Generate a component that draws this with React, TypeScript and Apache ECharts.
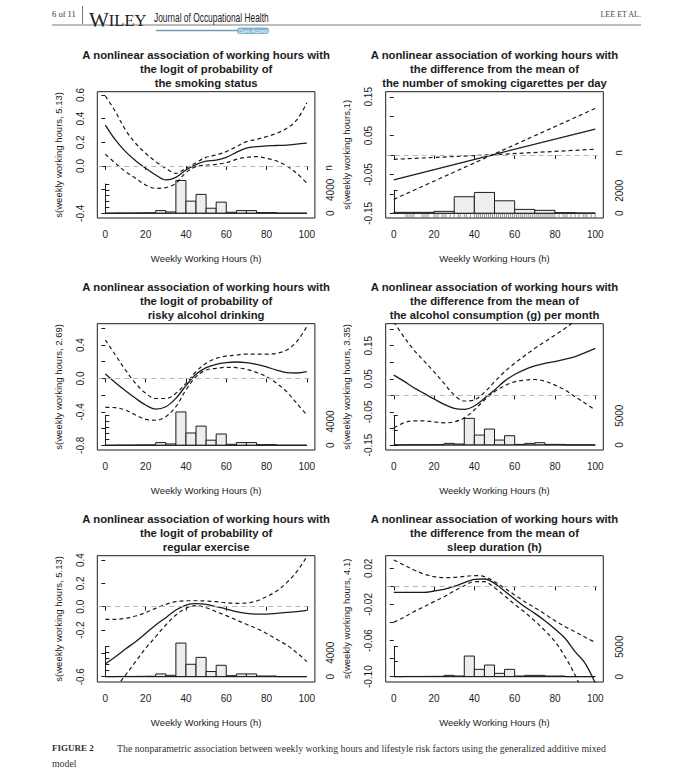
import React, { useEffect, useRef } from 'react';
import * as echarts from 'echarts';

// ---------------- data ----------------
const curveX = [0, 5, 10, 15, 20, 25, 30, 35, 40, 45, 50, 55, 60, 65, 70, 75, 80, 85, 90, 95, 100];
const linearX = [0, 50, 100];
const xTicks = [0, 20, 40, 60, 80, 100];

// Panel 1: smoking status
const smokeFit = [0.346, 0.22, 0.121, 0.045, -0.02, -0.076, -0.118, -0.096, -0.034, 0.012, 0.04, 0.05, 0.073, 0.115, 0.15, 0.163, 0.17, 0.173, 0.177, 0.185, 0.194];
const smokeUpper = [0.592, 0.459, 0.304, 0.192, 0.107, 0.037, -0.02, -0.062, -0.02, 0.028, 0.073, 0.093, 0.121, 0.163, 0.206, 0.225, 0.248, 0.276, 0.318, 0.389, 0.535];
const smokeLower = [0.099, 0.023, -0.048, -0.104, -0.161, -0.189, -0.183, -0.146, -0.056, -0.005, 0.008, 0.014, 0.028, 0.056, 0.073, 0.079, 0.065, 0.042, 0.0, -0.062, -0.146];

// Panel 2: cigarettes per day (linear)
const cigFit = [-0.064, 0.002, 0.067];
const cigCiA = [-0.011, 0.001, 0.015];
const cigCiB = [-0.114, 0.003, 0.12];

// Panel 3: risky alcohol drinking
const drinkFit = [0.053, -0.05, -0.146, -0.238, -0.318, -0.366, -0.338, -0.238, -0.086, 0.049, 0.129, 0.169, 0.189, 0.197, 0.189, 0.169, 0.137, 0.101, 0.069, 0.065, 0.081];
const drinkUpper = [0.46, 0.28, 0.1, -0.058, -0.178, -0.24, -0.24, -0.178, -0.058, 0.081, 0.181, 0.24, 0.268, 0.28, 0.292, 0.292, 0.292, 0.3, 0.34, 0.44, 0.62];
const drinkLower = [-0.346, -0.35, -0.378, -0.437, -0.489, -0.5, -0.457, -0.338, -0.138, 0.021, 0.101, 0.121, 0.133, 0.129, 0.109, 0.073, 0.021, -0.058, -0.158, -0.298, -0.437];

// Panel 4: alcohol consumption per month
const alcFit = [0.061, 0.043, 0.023, 0.006, -0.011, -0.027, -0.039, -0.042, -0.032, -0.009, 0.016, 0.043, 0.063, 0.078, 0.089, 0.097, 0.102, 0.109, 0.117, 0.129, 0.142];
const alcUpper = [0.222, 0.177, 0.137, 0.104, 0.071, 0.036, 0.001, -0.017, -0.014, 0.009, 0.041, 0.071, 0.097, 0.12, 0.142, 0.162, 0.182, 0.202, 0.225, 0.246, 0.268];
const alcLower = [-0.098, -0.083, -0.077, -0.077, -0.08, -0.083, -0.08, -0.068, -0.044, -0.014, 0.011, 0.029, 0.041, 0.046, 0.048, 0.043, 0.031, 0.016, -0.004, -0.024, -0.044];

// Panel 5: regular exercise
const exFit = [-0.491, -0.429, -0.363, -0.3, -0.229, -0.157, -0.094, -0.029, 0.014, 0.026, 0.02, 0.0, -0.02, -0.043, -0.057, -0.063, -0.063, -0.057, -0.049, -0.043, -0.031];
const exUpper = [-0.109, -0.109, -0.1, -0.08, -0.051, -0.014, 0.02, 0.043, 0.051, 0.051, 0.049, 0.043, 0.034, 0.029, 0.031, 0.049, 0.086, 0.134, 0.206, 0.3, 0.429];
const exLower = [-0.84, -0.7, -0.586, -0.471, -0.357, -0.257, -0.157, -0.071, -0.014, 0.009, -0.009, -0.043, -0.077, -0.114, -0.151, -0.186, -0.229, -0.28, -0.329, -0.394, -0.471];

// Panel 6: sleep duration
const sleepFit = [-0.0066, -0.0066, -0.0066, -0.0066, -0.0051, -0.0033, 0.0, 0.0041, 0.0078, 0.0082, 0.0034, -0.0051, -0.014, -0.0225, -0.0299, -0.038, -0.0472, -0.0575, -0.0723, -0.0852, -0.107];
const sleepUpper = [0.0292, 0.0237, 0.0182, 0.0137, 0.0108, 0.0097, 0.01, 0.0111, 0.0119, 0.0108, 0.0052, -0.0018, -0.0095, -0.0169, -0.0236, -0.0306, -0.038, -0.0446, -0.0502, -0.0564, -0.062];
const sleepLower = [-0.0398, -0.0343, -0.028, -0.0225, -0.0169, -0.0114, -0.0051, 0.0008, 0.0052, 0.0052, -0.0014, -0.0103, -0.0199, -0.0287, -0.0383, -0.049, -0.0612, -0.0779, -0.0982, -0.124, -0.15];

// Histograms of weekly working hours
const edges5 = [0, 5, 10, 15, 20, 25, 30, 35, 40, 45, 50, 55, 60, 65, 70, 75, 80, 85, 90, 95, 100];
const edges10 = [0, 10, 20, 30, 40, 50, 60, 70, 80, 90, 100];
const histMain = [10, 40, 40, 60, 80, 460, 230, 5600, 2070, 3220, 860, 1900, 170, 460, 460, 115, 115, 10, 10, 10];
const histCig = [90, 90, 175, 1470, 1850, 1110, 350, 265, 60, 30];
const histAlc = [10, 40, 40, 50, 60, 285, 170, 4550, 1700, 2730, 850, 1590, 110, 285, 400, 110, 110, 10, 10, 10];
const histSleep = [10, 40, 40, 50, 60, 220, 110, 3440, 1220, 1940, 555, 1220, 110, 220, 220, 110, 110, 10, 10, 10];
const rugCig = [6, 7, 8, 9, 10, 14, 15, 16, 17, 20, 21, 22, 24, 25, 26, 28, 30, 32, 33, 35, 36, 38,
  40, 41, 42, 43, 44, 45, 46, 47, 48, 49, 50, 51, 52, 53, 54, 55, 56, 57, 58, 59, 60, 61, 62, 63, 64, 65,
  66, 67, 68, 69, 70, 71, 72, 73, 74, 75, 76, 77, 78, 79, 80, 82, 84, 85, 86, 88, 90, 92, 94, 95, 96, 98, 100];

// Axis ticks
const ticksP1 = [-0.4, -0.2, 0, 0.2, 0.4, 0.6];
const labelsP1 = [-0.4, 0, 0.2, 0.4, 0.6];
const ticksP2 = [-0.15, -0.1, -0.05, 0, 0.05, 0.1, 0.15];
const labelsP2 = [-0.15, -0.05, 0.05, 0.15];
const ticksP3 = [-0.8, -0.6, -0.4, -0.2, 0, 0.2, 0.4, 0.6];
const labelsP3 = [-0.8, -0.4, 0, 0.4];
const ticksP4 = [-0.15, -0.1, -0.05, 0, 0.05, 0.1, 0.15, 0.2];
const labelsP4 = [-0.15, -0.05, 0.05, 0.15];
const ticksP5 = [-0.6, -0.4, -0.2, 0, 0.2, 0.4];
const labelsP5 = [-0.6, -0.2, 0, 0.2, 0.4];
const ticksP6 = [-0.1, -0.08, -0.06, -0.04, -0.02, 0, 0.02];
const labelsP6 = [-0.1, -0.06, -0.02, 0.02];
const nTicks5000 = [0, 1000, 2000, 3000, 4000, 5000];
const nLabels4000 = [0, 4000];
const nTicks2000 = [0, 2000];
const nTicksHalf = [0, 2500, 5000];
const nLabels5000 = [0, 5000];

const titleHead = 'A nonlinear association of working hours with';

// ---------------- layout / style ----------------
const INK = '#1c1c1c';
const FONT = '"Liberation Sans", Arial, Helvetica, sans-serif';
const SERIF = '"Liberation Serif", "DejaVu Serif", serif';
const colLeft = [97.3, 385.7];
const boxW = 217.6;
const rowTop = [91.7, 323.7, 555.7];
const boxH = 126.3;
const titleCY = [69, 301, 533];

type Panel = {
  col: number; row: number; title: string; yName: string;
  yMin: number; yMax: number; yTicks: number[]; yLabels: number[]; dec: number;
  xs: number[]; fit: number[]; ciA: number[]; ciB: number[]; smooth: boolean;
  edges: number[]; counts: number[]; nMax: number; nTicks: number[]; nLabels: number[];
  histBase: number; histPx: number; showN: boolean; nPos?: [number, number]; rug?: number[];
};

const panels: Panel[] = [
  { col: 0, row: 0, title: titleHead + '\nthe logit of probability of\nthe smoking status', yName: 's(weekly working hours, 5.13)',
    yMin: -0.44, yMax: 0.628, yTicks: ticksP1, yLabels: labelsP1, dec: 1, xs: curveX, fit: smokeFit, ciA: smokeUpper, ciB: smokeLower, smooth: true,
    edges: edges5, counts: histMain, nMax: 5000, nTicks: nTicks5000, nLabels: nLabels4000, histBase: -0.4, histPx: 29.3, showN: true, nPos: [328, 168] },
  { col: 1, row: 0, title: titleHead + '\nthe difference from the mean of\nthe number of smoking cigarettes per day', yName: 's(weekly working hours,1)',
    yMin: -0.162, yMax: 0.163, yTicks: ticksP2, yLabels: labelsP2, dec: 2, xs: linearX, fit: cigFit, ciA: cigCiA, ciB: cigCiB, smooth: false,
    edges: edges10, counts: histCig, nMax: 2000, nTicks: nTicks2000, nLabels: nTicks2000, histBase: -0.15, histPx: 22.6, showN: true, nPos: [618, 153], rug: rugCig },
  { col: 0, row: 1, title: titleHead + '\nthe logit of probability of\nrisky alcohol drinking', yName: 's(weekly working hours, 2.69)',
    yMin: -0.856, yMax: 0.655, yTicks: ticksP3, yLabels: labelsP3, dec: 1, xs: curveX, fit: drinkFit, ciA: drinkUpper, ciB: drinkLower, smooth: true,
    edges: edges5, counts: histMain, nMax: 5000, nTicks: nTicks5000, nLabels: nLabels4000, histBase: -0.8, histPx: 29.8, showN: false },
  { col: 1, row: 1, title: titleHead + '\nthe difference from the mean of\nthe alcohol consumption (g) per month', yName: 's(weekly working hours, 3.35)',
    yMin: -0.165, yMax: 0.2165, yTicks: ticksP4, yLabels: labelsP4, dec: 2, xs: curveX, fit: alcFit, ciA: alcUpper, ciB: alcLower, smooth: true,
    edges: edges5, counts: histAlc, nMax: 5000, nTicks: nTicksHalf, nLabels: nLabels5000, histBase: -0.15, histPx: 29.3, showN: false },
  { col: 0, row: 2, title: titleHead + '\nthe logit of probability of\nregular exercise', yName: 's(weekly working hours, 5.13)',
    yMin: -0.6455, yMax: 0.437, yTicks: ticksP5, yLabels: labelsP5, dec: 1, xs: curveX, fit: exFit, ciA: exUpper, ciB: exLower, smooth: true,
    edges: edges5, counts: histMain, nMax: 5000, nTicks: nTicks5000, nLabels: nLabels4000, histBase: -0.6, histPx: 30, showN: false },
  { col: 1, row: 2, title: titleHead + '\nthe difference from the mean of\nsleep duration (h)', yName: 's(weekly working hours, 4.1)',
    yMin: -0.1059, yMax: 0.034, yTicks: ticksP6, yLabels: labelsP6, dec: 2, xs: curveX, fit: sleepFit, ciA: sleepUpper, ciB: sleepLower, smooth: true,
    edges: edges5, counts: histSleep, nMax: 5000, nTicks: nTicksHalf, nLabels: nLabels5000, histBase: -0.1, histPx: 30, showN: false },
];

function buildOption() {
  const grid: any[] = [];
  const xAxis: any[] = [];
  const yAxis: any[] = [];
  const series: any[] = [];
  const elements: any[] = [];

  panels.forEach((p, i) => {
    const left = colLeft[p.col];
    const top = rowTop[p.row];
    const gi = i * 2;
    const basePx = top + ((p.yMax - p.histBase) / (p.yMax - p.yMin)) * boxH;

    grid.push({ left, top, width: boxW, height: boxH, show: true, borderColor: INK, borderWidth: 1, backgroundColor: 'transparent', containLabel: false });
    grid.push({ left, top: basePx - p.histPx, width: boxW, height: p.histPx, show: false, containLabel: false });

    xAxis.push({
      gridIndex: gi, type: 'value', min: -4, max: 104,
      axisLine: { show: false },
      axisTick: { show: true, length: 4, customValues: xTicks, lineStyle: { color: INK, width: 1 } },
      axisLabel: { customValues: xTicks, margin: 16, fontSize: 10, color: INK, fontFamily: FONT, verticalAlign: 'middle' },
      splitLine: { show: false },
      name: 'Weekly Working Hours (h)', nameLocation: 'middle', nameGap: 40,
      nameTextStyle: { fontSize: 9.5, color: INK, fontFamily: FONT, verticalAlign: 'middle' },
    });
    xAxis.push({ gridIndex: gi + 1, type: 'value', min: -4, max: 104, show: false });

    yAxis.push({
      gridIndex: gi, type: 'value', min: p.yMin, max: p.yMax,
      axisLine: { show: false },
      axisTick: { show: true, length: 4, customValues: p.yTicks, lineStyle: { color: INK, width: 1 } },
      axisLabel: { customValues: p.yLabels, rotate: 90, margin: 17, fontSize: 10, color: INK, fontFamily: FONT,
        align: 'center', verticalAlign: 'middle', formatter: (v: number) => Number(v).toFixed(p.dec) },
      splitLine: { show: false },
      name: p.yName, nameLocation: 'middle', nameRotate: 90, nameGap: 39,
      nameTextStyle: { fontSize: 9.5, color: INK, fontFamily: FONT, align: 'center', verticalAlign: 'middle' },
    });
    yAxis.push({
      gridIndex: gi + 1, type: 'value', position: 'right', min: 0, max: p.nMax,
      axisLine: { show: true, lineStyle: { color: INK, width: 1 } },
      axisTick: { show: true, length: 4, customValues: p.nTicks, lineStyle: { color: INK, width: 1 } },
      axisLabel: { customValues: p.nLabels, rotate: 90, margin: 16, fontSize: 10, color: INK, fontFamily: FONT,
        align: 'center', verticalAlign: 'middle', formatter: (v: number) => String(Math.round(v)) },
      splitLine: { show: false },
    });

    // histogram
    const bins = p.counts.map((c, k) => [p.edges[k], p.edges[k + 1], c]);
    series.push({
      type: 'custom', xAxisIndex: gi + 1, yAxisIndex: gi + 1, z: 2,
      data: bins, encode: { x: [0, 1], y: 2 },
      renderItem: (_params: any, api: any) => {
        const a = api.coord([api.value(0), api.value(2)]);
        const b = api.coord([api.value(1), 0]);
        return { type: 'rect', shape: { x: a[0], y: a[1], width: b[0] - a[0], height: b[1] - a[1] },
          style: { fill: '#eeeeee', stroke: INK, lineWidth: 1 } };
      },
    });
    series.push({
      type: 'line', xAxisIndex: gi + 1, yAxisIndex: gi + 1, z: 2, symbol: 'none', silent: true,
      data: [[p.edges[0], 0], [p.edges[p.edges.length - 1], 0]],
      lineStyle: { color: INK, width: 1 },
    });

    if (p.rug) {
      series.push({
        type: 'custom', xAxisIndex: gi, yAxisIndex: gi, z: 2,
        data: p.rug.map((x) => [x, p.yMin]), encode: { x: 0, y: 1 },
        renderItem: (_params: any, api: any) => {
          const pt = api.coord([api.value(0), api.value(1)]);
          return { type: 'line', shape: { x1: pt[0], y1: pt[1], x2: pt[0], y2: pt[1] - 5 },
            style: { stroke: '#7a7a7a', lineWidth: 0.8 } };
        },
      });
    }

    const zip = (ys: number[]) => p.xs.map((x, k) => [x, ys[k]]);
    series.push({
      type: 'line', xAxisIndex: gi, yAxisIndex: gi, z: 4, symbol: 'none', smooth: p.smooth ? 0.35 : false, clip: true,
      data: zip(p.fit), lineStyle: { color: INK, width: 1.3 },
      markLine: { silent: true, symbol: ['none', 'none'], label: { show: false },
        lineStyle: { color: '#b5b5b5', type: [5, 4], width: 1 }, data: [{ yAxis: 0 }] },
    });
    [p.ciA, p.ciB].forEach((ci) => {
      series.push({
        type: 'line', xAxisIndex: gi, yAxisIndex: gi, z: 4, symbol: 'none', smooth: p.smooth ? 0.35 : false, clip: true,
        data: zip(ci), lineStyle: { color: INK, width: 1.2, type: [4, 3] },
      });
    });

    // panel title
    elements.push({
      type: 'text', x: left + boxW / 2, y: titleCY[p.row],
      style: { text: p.title, fontSize: 11.3, fontWeight: 'bold', fontFamily: FONT, fill: INK,
        align: 'center', verticalAlign: 'middle', lineHeight: 13.8 },
    });
    if (p.showN && p.nPos) {
      elements.push({
        type: 'text', x: p.nPos[0], y: p.nPos[1], rotation: Math.PI / 2,
        style: { text: 'n', fontSize: 10, fontFamily: FONT, fill: INK, align: 'center', verticalAlign: 'middle' },
      });
    }
  });

  // header
  elements.push(
    { type: 'text', x: 52, y: 14, style: { text: '6 of 11', fontSize: 8.5, fontFamily: SERIF, fill: '#333', align: 'left', verticalAlign: 'middle' } },
    { type: 'line', shape: { x1: 82.5, y1: 6, x2: 82.5, y2: 24 }, style: { stroke: '#555', lineWidth: 0.8 } },
    { type: 'line', shape: { x1: 52, y1: 25, x2: 641, y2: 25 }, style: { stroke: '#555', lineWidth: 0.8 } },
    { type: 'text', x: 89, y: 30.5, style: { text: '{w|W}{r|ILEY}', fontFamily: SERIF, fill: '#222', align: 'left', verticalAlign: 'bottom',
      rich: { w: { fontSize: 21, fontFamily: SERIF, fill: '#222' }, r: { fontSize: 16.5, fontFamily: SERIF, fill: '#222' } } } },
    { type: 'text', x: 154, y: 24, scaleX: 0.7, style: { text: 'Journal of Occupational Health', fontSize: 12, fontFamily: FONT, fill: '#222', align: 'left', verticalAlign: 'bottom' } },
    { type: 'line', shape: { x1: 156, y1: 30.5, x2: 238, y2: 30.5 }, style: { stroke: '#6f9fb6', lineWidth: 1.6 } },
    { type: 'rect', shape: { x: 237, y: 27.5, width: 32, height: 6.5, r: 3 }, style: { fill: '#7fb3d1' } },
    { type: 'text', x: 253, y: 30.8, style: { text: 'Open Access', fontSize: 5, fontFamily: FONT, fill: '#fff', align: 'center', verticalAlign: 'middle' } },
    { type: 'text', x: 641, y: 14, style: { text: 'LEE ET AL.', fontSize: 8, fontFamily: SERIF, fill: '#444', align: 'right', verticalAlign: 'middle' } },
  );
  // caption
  elements.push(
    { type: 'text', x: 52, y: 748, style: { text: 'FIGURE 2', fontSize: 9, fontWeight: 'bold', fontFamily: SERIF, fill: '#333', align: 'left', verticalAlign: 'middle' } },
    { type: 'text', x: 117, y: 748, style: { text: 'The nonparametric association between weekly working hours and lifestyle risk factors using the generalized additive mixed', fontSize: 9.8, fontFamily: SERIF, fill: '#333', align: 'left', verticalAlign: 'middle' } },
    { type: 'text', x: 52, y: 763, style: { text: 'model', fontSize: 9.8, fontFamily: SERIF, fill: '#333', align: 'left', verticalAlign: 'middle' } },
  );

  return {
    animation: false,
    backgroundColor: '#ffffff',
    grid, xAxis, yAxis, series,
    graphic: { elements },
  };
}

export default function App() {
  const ref = useRef<HTMLDivElement>(null);
  useEffect(() => {
    if (!ref.current) return;
    const chart = echarts.init(ref.current, undefined, { renderer: 'svg' });
    chart.setOption(buildOption() as any);
    return () => chart.dispose();
  }, []);
  return <div ref={ref} style={{ position: 'absolute', left: 0, top: 0, width: 679, height: 778, background: '#fff' }} />;
}
